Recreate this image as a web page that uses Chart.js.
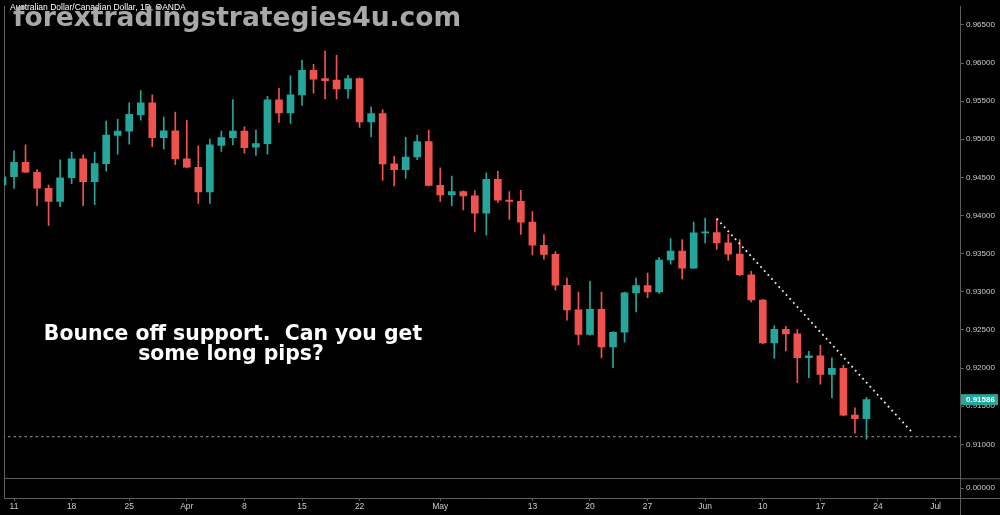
<!DOCTYPE html>
<html>
<head>
<meta charset="utf-8">
<script src="https://cdn.jsdelivr.net/npm/chart.js@4"></script>
<style>
  html, body { margin: 0; padding: 0; background: #000; }
  #wrap { width: 1000px; height: 515px; position: relative; }
</style>
</head>
<body>
<div id="wrap"><canvas id="chartAudCad"></canvas></div>
<script>
// AUD/CAD daily candles, 8 Mar - 21 Jun 2019
const opens = [
  0.94400, 0.94509, 0.94698, 0.94568, 0.94358, 0.94186, 0.94496, 0.94742, 0.94444, 0.94681,
  0.95050, 0.95107, 0.95320, 0.95479, 0.95021, 0.95111, 0.94742, 0.94633, 0.94310, 0.94920,
  0.95021, 0.95107, 0.94895, 0.94943, 0.95517, 0.95344, 0.95582, 0.95905, 0.95797, 0.95776,
  0.95660, 0.95797, 0.95228, 0.95336, 0.94677, 0.94603, 0.94767, 0.94969, 0.94396, 0.94271,
  0.94315, 0.94258, 0.94030, 0.94474, 0.94202, 0.94186, 0.93914, 0.93611, 0.93491, 0.93086,
  0.92763, 0.92440, 0.92771, 0.92276, 0.92470, 0.92987, 0.93081, 0.93000, 0.93417, 0.93534,
  0.93310, 0.93772, 0.93776, 0.93642, 0.93495, 0.93224, 0.92893, 0.92331, 0.92508, 0.92448,
  0.92137, 0.92159, 0.91918, 0.91995, 0.91384, 0.91336
];
const highs = [
  0.94600, 0.94849, 0.94926, 0.94603, 0.94400, 0.94732, 0.94832, 0.94797, 0.94832, 0.95237,
  0.95263, 0.95479, 0.95638, 0.95582, 0.95292, 0.95357, 0.95250, 0.94913, 0.95004, 0.95107,
  0.95521, 0.95163, 0.95120, 0.95564, 0.95667, 0.95831, 0.96038, 0.95983, 0.96155, 0.96100,
  0.95840, 0.95806, 0.95422, 0.95388, 0.94775, 0.95026, 0.95056, 0.95120, 0.94625, 0.94517,
  0.94323, 0.94323, 0.94560, 0.94581, 0.94315, 0.94332, 0.94051, 0.93750, 0.93526, 0.93181,
  0.92996, 0.93138, 0.92996, 0.92479, 0.92995, 0.93181, 0.93246, 0.93453, 0.93698, 0.93685,
  0.93914, 0.93966, 0.93957, 0.93754, 0.93685, 0.93267, 0.92900, 0.92556, 0.92547, 0.92505,
  0.92220, 0.92298, 0.92134, 0.92039, 0.91478, 0.91616
];
const lows = [
  0.94340, 0.94357, 0.94561, 0.94129, 0.93870, 0.94116, 0.94418, 0.94129, 0.94142, 0.94581,
  0.94806, 0.94935, 0.95250, 0.94904, 0.94871, 0.94668, 0.94625, 0.94160, 0.94160, 0.94840,
  0.94926, 0.94819, 0.94788, 0.94806, 0.95220, 0.95207, 0.95444, 0.95603, 0.95530, 0.95530,
  0.95538, 0.95155, 0.95034, 0.94461, 0.94387, 0.94487, 0.94732, 0.94390, 0.94186, 0.94129,
  0.94073, 0.93785, 0.93741, 0.94173, 0.93948, 0.93754, 0.93482, 0.93427, 0.93022, 0.92629,
  0.92306, 0.92430, 0.92134, 0.92004, 0.92340, 0.92737, 0.92922, 0.92978, 0.93362, 0.93168,
  0.93302, 0.93642, 0.93556, 0.93410, 0.93211, 0.92867, 0.92320, 0.92125, 0.92224, 0.91810,
  0.91875, 0.91788, 0.91607, 0.91371, 0.91147, 0.91069
];
const closes = [
  0.94509, 0.94698, 0.94568, 0.94358, 0.94186, 0.94496, 0.94742, 0.94444, 0.94681, 0.95056,
  0.95107, 0.95327, 0.95479, 0.95021, 0.95111, 0.94742, 0.94633, 0.94310, 0.94926, 0.95021,
  0.95107, 0.94891, 0.94943, 0.95517, 0.95344, 0.95582, 0.95905, 0.95789, 0.95767, 0.95660,
  0.95797, 0.95228, 0.95336, 0.94677, 0.94603, 0.94767, 0.94969, 0.94396, 0.94271, 0.94315,
  0.94258, 0.94030, 0.94474, 0.94202, 0.94186, 0.93914, 0.93611, 0.93491, 0.93086, 0.92763,
  0.92440, 0.92771, 0.92276, 0.92470, 0.92987, 0.93081, 0.93000, 0.93417, 0.93534, 0.93310,
  0.93772, 0.93780, 0.93642, 0.93495, 0.93224, 0.92893, 0.92331, 0.92508, 0.92448, 0.92137,
  0.92159, 0.91918, 0.91995, 0.91384, 0.91336, 0.91586
];

const priceTicks = [0.910, 0.915, 0.920, 0.925, 0.930, 0.935, 0.940, 0.945, 0.950, 0.955, 0.960, 0.965];
const tickDates = ['2019-03-11', '2019-03-18', '2019-03-25', '2019-04-01', '2019-04-08', '2019-04-15',
  '2019-04-22', '2019-05-01', '2019-05-13', '2019-05-20', '2019-05-27', '2019-06-03', '2019-06-10',
  '2019-06-17', '2019-06-24', '2019-07-01'];
const tickLabels = ['11', '18', '25', 'Apr', '8', '15', '22', 'May', '13', '20', '27', 'Jun', '10', '17', '24', 'Jul'];

const supportPrice = 0.9110;
const trendDates = ['2019-06-04', '2019-06-27'];
const trendPrices = [0.9396, 0.9115];

const upColor = '#26a69a';
const downColor = '#ef5350';

// trading days (weekdays) from the first candle to the end of the axis
const days = [];
for (let d = new Date(Date.UTC(2019, 2, 8)); d <= new Date(Date.UTC(2019, 6, 5)); d.setUTCDate(d.getUTCDate() + 1)) {
  const wd = d.getUTCDay();
  if (wd !== 0 && wd !== 6) days.push(d.toISOString().slice(0, 10));
}
const dayIdx = s => days.indexOf(s);

const candleColors = closes.map((c, i) => c >= opens[i] ? upColor : downColor);
const bodies = closes.map((c, i) => ({ x: i, y: [opens[i], c] }));
const wicks = closes.map((c, i) => ({ x: i, y: [lows[i], highs[i]] }));

const axisGray = '#5e5e5e';
const labelGray = '#cccccc';

const overlayText = {
  id: 'overlayText',
  afterDraw(chart) {
    const ctx = chart.ctx;
    const yScale = chart.scales.y;
    const area = chart.chartArea;
    ctx.save();
    // pane edges run on under the price axis, like the terminal does
    ctx.strokeStyle = axisGray;
    ctx.lineWidth = 1;
    ctx.beginPath();
    ctx.moveTo(area.right + 0.5, area.bottom);
    ctx.lineTo(area.right + 0.5, chart.height);
    ctx.moveTo(area.right, area.bottom + 0.5);
    ctx.lineTo(chart.width, area.bottom + 0.5);
    ctx.moveTo(area.right, chart.scales.y2.top + 0.5);
    ctx.lineTo(chart.width, chart.scales.y2.top + 0.5);
    ctx.stroke();

    ctx.font = '8.5px "Liberation Sans"';
    ctx.fillStyle = '#ffffff';
    ctx.textBaseline = 'middle';
    ctx.fillText('Australian Dollar/Canadian Dollar, 1D, OANDA', 10, 7.5);

    ctx.font = 'bold 26.5px "DejaVu Sans"';
    ctx.fillStyle = '#a8a8a8';
    ctx.textBaseline = 'alphabetic';
    ctx.fillText('forextradingstrategies4u.com', 13, 26);

    ctx.font = 'bold 20.4px "DejaVu Sans"';
    ctx.fillStyle = '#ffffff';
    ctx.textAlign = 'center';
    ctx.fillText('Bounce off support.  Can you get', 233, 339.5);
    ctx.fillText('some long pips?', 231, 359.8);

    // last price tag on the price axis
    const last = closes[closes.length - 1];
    const py = yScale.getPixelForValue(last);
    ctx.fillStyle = upColor;
    ctx.fillRect(961, py - 5.5, 37, 11);
    ctx.fillStyle = '#ffffff';
    ctx.textAlign = 'left';
    ctx.textBaseline = 'middle';
    ctx.font = 'bold 8px "Liberation Sans"';
    ctx.fillText(last.toFixed(5), 966, py + 0.5);
    ctx.restore();
  }
};

new Chart(document.getElementById('chartAudCad'), {
  type: 'bar',
  data: {
    datasets: [
      {
        label: 'trend',
        type: 'line',
        order: -2,
        data: trendDates.map((d, i) => ({ x: dayIdx(d), y: trendPrices[i] })),
        borderColor: '#e8e8e8',
        borderWidth: 1.8,
        borderDash: [1.8, 3.6],
        pointRadius: 0,
        yAxisID: 'y'
      },
      {
        label: 'support',
        type: 'line',
        order: -1,
        data: [{ x: 0, y: supportPrice }, { x: days.length - 1, y: supportPrice }],
        borderColor: '#9a9a9a',
        borderWidth: 1,
        borderDash: [2.5, 3],
        pointRadius: 0,
        yAxisID: 'y'
      },
      {
        label: 'body',
        data: bodies,
        backgroundColor: candleColors,
        borderWidth: 0,
        barThickness: 7,
        minBarLength: 1,
        grouped: false,
        yAxisID: 'y'
      },
      {
        label: 'wick',
        data: wicks,
        backgroundColor: candleColors,
        borderWidth: 0,
        barThickness: 1,
        grouped: false,
        yAxisID: 'y'
      }
    ]
  },
  options: {
    responsive: true,
    maintainAspectRatio: false,
    animation: false,
    layout: { padding: { left: 4, right: 0, top: 0, bottom: 0 } },
    plugins: {
      legend: { display: false },
      tooltip: { enabled: false }
    },
    scales: {
      x: {
        type: 'linear',
        position: 'bottom',
        min: 0.13,
        max: 83.12,
        offset: false,
        afterBuildTicks: scale => {
          scale.ticks = tickDates.map(d => ({ value: dayIdx(d) }));
        },
        afterFit: scale => { scale.height = 17; },
        ticks: {
          autoSkip: false,
          maxRotation: 0,
          padding: 1,
          color: labelGray,
          font: { family: 'Liberation Sans', size: 8.5 },
          callback: (v, i) => tickLabels[i]
        },
        grid: { offset: false, drawOnChartArea: false, tickLength: 3, tickColor: axisGray },
        border: { color: axisGray }
      },
      y: {
        type: 'linear',
        position: 'right',
        stack: 'price',
        stackWeight: 478,
        min: 0.90555,
        max: 0.96737,
        afterBuildTicks: scale => {
          scale.ticks = priceTicks.map(v => ({ value: v }));
        },
        afterFit: scale => { scale.width = 40; },
        ticks: {
          autoSkip: false,
          padding: 2,
          color: labelGray,
          font: { family: 'Liberation Sans', size: 8 },
          callback: v => v.toFixed(5)
        },
        grid: { drawOnChartArea: false, tickLength: 4, tickColor: axisGray },
        border: { color: axisGray }
      },
      y2: {
        type: 'linear',
        position: 'right',
        stack: 'price',
        stackWeight: 20,
        min: -1,
        max: 1,
        afterBuildTicks: scale => {
          scale.ticks = [{ value: 1 }, { value: 0 }];
        },
        afterFit: scale => { scale.width = 40; },
        ticks: {
          autoSkip: false,
          padding: 2,
          color: labelGray,
          font: { family: 'Liberation Sans', size: 8 },
          callback: v => Math.abs(v) < 0.5 ? '0.00000' : ''
        },
        grid: {
          drawOnChartArea: true,
          tickLength: 4,
          color: ctx => (ctx.tick && ctx.tick.value === 1) ? axisGray : 'rgba(0,0,0,0)',
          tickColor: ctx => (ctx.tick && ctx.tick.value === 0) ? axisGray : 'rgba(0,0,0,0)'
        },
        border: { color: axisGray }
      },
      yl: {
        type: 'linear',
        position: 'left',
        afterFit: scale => { scale.width = 0; },
        ticks: { display: false },
        grid: { drawOnChartArea: false, drawTicks: false },
        border: { color: axisGray }
      }
    }
  },
  plugins: [overlayText]
});
</script>
</body>
</html>
